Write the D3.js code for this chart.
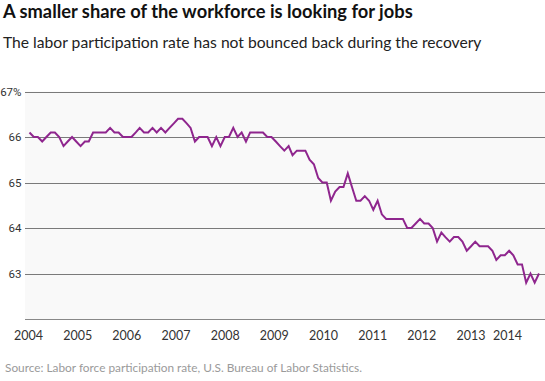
<!DOCTYPE html>
<html>
<head>
<meta charset="utf-8">
<script src="https://cdn.jsdelivr.net/npm/d3@7"></script>
<style>
  html, body { margin: 0; padding: 0; background: #fff; }
  svg { display: block; font-family: Lato, "Open Sans", sans-serif; }
</style>
</head>
<body>
<svg id="chart" width="545" height="381"></svg>
<script>
// ---- Data: monthly labor force participation rate (%), Jan 2004 – Jan 2014 ----
const startYear = 2004;
const rate2004 = [66.1, 66.0, 66.0, 65.9, 66.0, 66.1, 66.1, 66.0, 65.8, 65.9, 66.0, 65.9];
const rate2005 = [65.8, 65.9, 65.9, 66.1, 66.1, 66.1, 66.1, 66.2, 66.1, 66.1, 66.0, 66.0];
const rate2006 = [66.0, 66.1, 66.2, 66.1, 66.1, 66.2, 66.1, 66.2, 66.1, 66.2, 66.3, 66.4];
const rate2007 = [66.4, 66.3, 66.2, 65.9, 66.0, 66.0, 66.0, 65.8, 66.0, 65.8, 66.0, 66.0];
const rate2008 = [66.2, 66.0, 66.1, 65.9, 66.1, 66.1, 66.1, 66.1, 66.0, 66.0, 65.9, 65.8];
const rate2009 = [65.7, 65.8, 65.6, 65.7, 65.7, 65.7, 65.5, 65.4, 65.1, 65.0, 65.0, 64.6];
const rate2010 = [64.8, 64.9, 64.9, 65.2, 64.9, 64.6, 64.6, 64.7, 64.6, 64.4, 64.6, 64.3];
const rate2011 = [64.2, 64.2, 64.2, 64.2, 64.2, 64.0, 64.0, 64.1, 64.2, 64.1, 64.1, 64.0];
const rate2012 = [63.7, 63.9, 63.8, 63.7, 63.8, 63.8, 63.7, 63.5, 63.6, 63.7, 63.6, 63.6];
const rate2013 = [63.6, 63.5, 63.3, 63.4, 63.4, 63.5, 63.4, 63.2, 63.2, 62.8, 63.0, 62.8];
const rate2014 = [63.0];
const yearLabels = ["2004","2005","2006","2007","2008","2009","2010","2011","2012","2013","2014"];
const yTicks = [63, 64, 65, 66, 67];
const yDomain = [62, 67];

const titleText = "A smaller share of the workforce is looking for jobs";
const subtitleText = "The labor participation rate has not bounced back during the recovery";
const sourceText = "Source: Labor force participation rate, U.S. Bureau of Labor Statistics.";

// ---- Build series ----
const allYears = [rate2004, rate2005, rate2006, rate2007, rate2008, rate2009,
                  rate2010, rate2011, rate2012, rate2013, rate2014];
const series = [];
allYears.forEach((arr, yi) => arr.forEach((v, m) => {
  series.push({ date: new Date(startYear + yi, m, 1), value: v });
}));

const svg = d3.select("#chart");

const plot = { left: 25, right: 545, top: 91.5, bottom: 319 };

const x = d3.scaleTime()
  .domain([new Date(2004, 0, 1), new Date(2014, 0, 1)])
  .range([29.5, 539]);
const y = d3.scaleLinear().domain(yDomain).range([plot.bottom, plot.top]);
const xLabel = d3.scalePoint().domain(yearLabels.slice(0, 10)).range([28.5, 471]);

// helper: fit text to a target width
function fit(sel, target) {
  const fs = parseFloat(sel.attr("font-size"));
  const w = sel.node().getComputedTextLength();
  sel.attr("font-size", (fs * target / w).toFixed(2));
}

// Titles
fit(svg.append("text").attr("x", 3).attr("y", 18.3)
  .attr("font-size", 16).attr("font-weight", 700).attr("fill", "#111")
  .text(titleText), 410);
fit(svg.append("text").attr("x", 3).attr("y", 47.6)
  .attr("font-size", 14).attr("fill", "#222")
  .text(subtitleText), 479);

// Plot background
svg.append("rect")
  .attr("x", plot.left).attr("y", plot.top)
  .attr("width", plot.right - plot.left).attr("height", plot.bottom - plot.top)
  .attr("fill", "#f9f9f9");

// Gridlines + y labels
const yAxis = svg.append("g");
yTicks.forEach(t => {
  yAxis.append("line")
    .attr("x1", plot.left).attr("x2", plot.right)
    .attr("y1", Math.round(y(t)) + 0.5).attr("y2", Math.round(y(t)) + 0.5)
    .attr("stroke", "#7a7a7a").attr("stroke-width", 1);
  yAxis.append("text")
    .attr("x", 21.5).attr("y", y(t)).attr("dy", "0.35em")
    .attr("text-anchor", "end").attr("font-size", 11.5).attr("fill", "#333")
    .attr("font-family", "Roboto, Lato, sans-serif")
    .text(t === yDomain[1] ? t + "%" : t);
});

// Bottom axis line
svg.append("line")
  .attr("x1", plot.left).attr("x2", plot.right)
  .attr("y1", Math.round(y(yDomain[0])) + 0.5).attr("y2", Math.round(y(yDomain[0])) + 0.5)
  .attr("stroke", "#888").attr("stroke-width", 1);

// X labels
const xAxis = svg.append("g");
yearLabels.forEach((lab, i) => {
  const last = i === yearLabels.length - 1;
  xAxis.append("text")
    .attr("x", last ? 522 : xLabel(lab))
    .attr("y", 340)
    .attr("text-anchor", last ? "end" : "middle")
    .attr("font-size", 12.5).attr("fill", "#333")
    .text(lab);
});

// Line
const line = d3.line().x(d => x(d.date)).y(d => y(d.value));
svg.append("path")
  .datum(series)
  .attr("d", line)
  .attr("fill", "none")
  .attr("stroke", "#8f268e")
  .attr("stroke-width", 2)
  .attr("stroke-linejoin", "miter");

// Source
fit(svg.append("text").attr("x", 5).attr("y", 372)
  .attr("font-size", 11).attr("fill", "#9a9a9a")
  .text(sourceText), 357);
</script>
</body>
</html>
